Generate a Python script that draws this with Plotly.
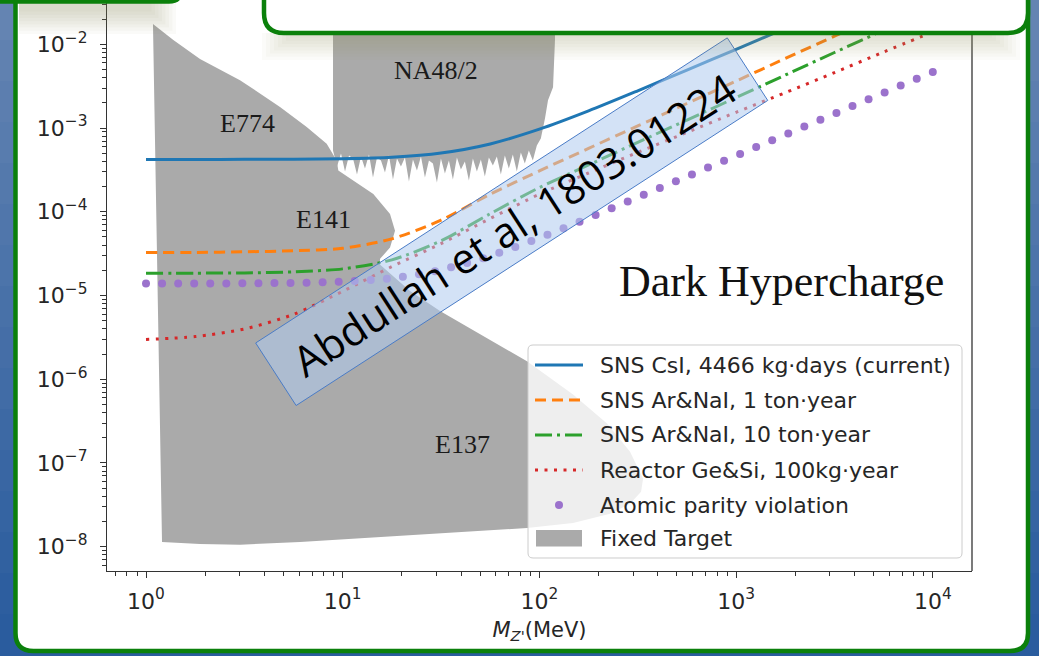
import math
import plotly.graph_objects as go

# ---------------- data ----------------
mass_grid = [1.0, 1.778, 3.162, 5.623, 10.0, 17.78, 31.62, 56.23, 100.0, 177.8,
             316.2, 562.3, 1000.0, 1778.0, 3162.0, 5623.0, 10000.0]

sns_csi_current = [4.217e-4, 4.217e-4, 4.227e-4, 4.246e-4, 4.305e-4, 4.487e-4, 5.035e-4,
                   6.457e-4, 9.683e-4, 1.603e-3, 2.786e-3, 4.920e-3, 8.710e-3, 1.549e-2,
                   2.754e-2, 4.898e-2, 8.710e-2]
sns_arnai_1ton = [3.258e-5, 3.273e-5, 3.327e-5, 3.420e-5, 3.664e-5, 4.753e-5, 7.943e-5,
                  1.622e-4, 3.076e-4, 5.715e-4, 1.059e-3, 1.963e-3, 3.639e-3, 6.761e-3,
                  1.253e-2, 2.323e-2, 4.305e-2]
sns_arnai_10ton = [1.845e-5, 1.849e-5, 1.862e-5, 1.914e-5, 2.080e-5, 2.667e-5, 4.498e-5,
                   9.484e-5, 1.945e-4, 3.622e-4, 6.745e-4, 1.247e-3, 2.312e-3, 4.295e-3,
                   7.980e-3, 1.476e-2, 2.742e-2]
reactor_gesi = [2.985e-6, 3.236e-6, 3.981e-6, 5.957e-6, 1.122e-5, 2.213e-5, 4.169e-5,
                8.318e-5, 1.622e-4, 2.904e-4, 5.117e-4, 8.872e-4, 1.542e-3, 2.642e-3,
                4.592e-3, 8.091e-3, 1.403e-2]

apv_mass = [1.0, 1.207, 1.457, 1.758, 2.121, 2.560, 3.089, 3.728, 4.498, 5.429, 6.551, 7.906,
            9.541, 11.51, 13.89, 16.77, 20.23, 24.42, 29.47, 35.56, 42.92, 51.79, 62.51, 75.43,
            91.03, 109.9, 132.6, 160.0, 193.1, 233.0, 281.2, 339.3, 409.5, 494.2, 596.4, 719.7,
            868.5, 1048.0, 1265.0, 1526.0, 1842.0, 2223.0, 2683.0, 3237.0, 3907.0, 4715.0,
            5690.0, 6866.0, 8286.0, 10000.0]
apv_g = [1.39e-5, 1.39e-5, 1.39e-5, 1.39e-5, 1.394e-5, 1.395e-5, 1.40e-5, 1.40e-5, 1.406e-5,
         1.413e-5, 1.42e-5, 1.435e-5, 1.456e-5, 1.486e-5, 1.53e-5, 1.59e-5, 1.68e-5, 1.796e-5,
         1.955e-5, 2.17e-5, 2.44e-5, 2.79e-5, 3.24e-5, 3.79e-5, 4.48e-5, 5.33e-5, 6.35e-5,
         7.61e-5, 9.14e-5, 1.098e-4, 1.322e-4, 1.593e-4, 1.920e-4, 2.316e-4, 2.79e-4, 3.37e-4,
         4.06e-4, 4.90e-4, 5.92e-4, 7.14e-4, 8.62e-4, 1.04e-3, 1.255e-3, 1.514e-3, 1.827e-3,
         2.206e-3, 2.66e-3, 3.21e-3, 3.88e-3, 4.68e-3]

# Fixed target: E774 + E141 + E137 outline
ft_main_mass = [1.085, 1.377, 1.882, 3.005, 4.80, 6.56, 8.29, 9.32, 9.50, 11.32, 14.31, 17.40,
                18.45, 17.40, 15.49, 15.40, 21.99, 31.24, 49.89, 86.5, 148.3, 220.7, 289.0,
                336.5, 328.8, 289.0, 228.6, 148.3, 86.5, 49.89, 31.24, 15.49, 6.07, 3.005,
                1.882, 1.206]
ft_main_g = [1.75e-2, 1.127e-2, 6.67e-3, 3.73e-3, 1.786e-3, 1.028e-3, 6.50e-4, 4.10e-4, 3.11e-4,
             2.36e-4, 1.633e-4, 9.41e-5, 5.93e-5, 3.74e-5, 2.74e-5, 2.366e-5, 1.133e-5, 6.52e-6,
             3.45e-6, 1.638e-6, 6.59e-7, 2.96e-7, 1.365e-7, 6.48e-8, 4.53e-8, 3.25e-8, 2.47e-8,
             1.924e-8, 1.675e-8, 1.542e-8, 1.459e-8, 1.306e-8, 1.138e-8, 1.057e-8, 1.076e-8,
             1.138e-8]
# Fixed target: NA48/2 outline (ragged lower edge)
na48_mass = [8.928, 8.928, 9.355, 9.803, 10.273, 10.765, 11.281, 11.821, 12.387, 12.980, 13.602,
             14.253, 14.936, 15.651, 16.401, 17.186, 18.010, 18.872, 19.776, 20.723, 21.715,
             22.756, 23.845, 24.988, 26.184, 27.438, 28.752, 30.129, 31.572, 33.084, 34.669,
             36.329, 38.069, 39.892, 41.803, 43.805, 45.903, 48.101, 50.405, 52.819, 55.348,
             57.999, 60.777, 63.688, 66.738, 69.934, 73.284, 76.793, 80.471, 84.325, 88.364,
             92.596, 97.030, 101.68, 106.8, 110.6, 117.3, 120.0, 120.0]
na48_g = [0.1, 5.40e-4, 3.47e-4, 4.97e-4, 3.03e-4, 4.71e-4, 4.33e-4, 2.78e-4, 4.58e-4, 3.29e-4,
          4.84e-4, 2.56e-4, 4.45e-4, 4.10e-4, 2.94e-4, 4.71e-4, 2.43e-4, 4.33e-4, 3.47e-4,
          4.45e-4, 2.30e-4, 4.21e-4, 3.11e-4, 4.58e-4, 2.56e-4, 4.10e-4, 3.77e-4, 2.23e-4,
          4.33e-4, 2.86e-4, 4.10e-4, 2.43e-4, 4.45e-4, 3.20e-4, 3.99e-4, 2.36e-4, 4.33e-4,
          3.03e-4, 4.21e-4, 2.64e-4, 4.45e-4, 3.57e-4, 4.58e-4, 2.78e-4, 4.71e-4, 3.29e-4,
          4.84e-4, 3.03e-4, 5.11e-4, 3.77e-4, 5.40e-4, 4.10e-4, 6.20e-4, 7.52e-4, 1.305e-3,
          2.148e-3, 3.076e-3, 1.127e-2, 0.1]

legend_labels = ["SNS CsI, 4466 kg·days (current)", "SNS Ar&NaI, 1 ton·year",
                 "SNS Ar&NaI, 10 ton·year", "Reactor Ge&Si, 100kg·year",
                 "Atomic parity violation", "Fixed Target"]
region_labels = ["E774", "E141", "NA48/2", "E137"]

x_tick_vals = [1, 10, 100, 1000, 10000]
x_tick_text = ["10<sup>0</sup>", "10<sup>1</sup>", "10<sup>2</sup>", "10<sup>3</sup>", "10<sup>4</sup>"]
y_tick_vals = [1e-8, 1e-7, 1e-6, 1e-5, 1e-4, 1e-3, 1e-2]
y_tick_text = ["10<sup>−8</sup>", "10<sup>−7</sup>", "10<sup>−6</sup>", "10<sup>−5</sup>",
               "10<sup>−4</sup>", "10<sup>−3</sup>", "10<sup>−2</sup>"]

# ---------------- layout geometry ----------------
FW, FH = 1039, 656
ML, MR, MT, MB = 107, 67, 0, 85
PW, PH = FW - ML - MR, FH - MT - MB


def PX(x):
    return (x - ML) / PW


def PY(y):
    return (MT + PH - y) / PH


def P(x, y):
    return f"{PX(x):.5f},{PY(y):.5f}"


def rrect_path(x0, y0, x1, y1, r):
    return (f"M{P(x0 + r, y0)} L{P(x1 - r, y0)} Q{P(x1, y0)} {P(x1, y0 + r)} "
            f"L{P(x1, y1 - r)} Q{P(x1, y1)} {P(x1 - r, y1)} L{P(x0 + r, y1)} "
            f"Q{P(x0, y1)} {P(x0, y1 - r)} L{P(x0, y0 + r)} Q{P(x0, y0)} {P(x0 + r, y0)} Z")


GREEN = "#0b800b"
C_BLUE, C_ORANGE, C_GREEN, C_RED, C_PURPLE = "#1f77b4", "#ff7f0e", "#2ca02c", "#d62728", "#9b72cc"
FT_GRAY = "#aaaaaa"
DASH_O = "11px,6px"
DASH_G = "17px,5px,3px,5px"
DASH_R = "3px,6.5px"

fig = go.Figure()

# fixed target fills
fig.add_trace(go.Scatter(x=ft_main_mass, y=ft_main_g, mode="lines", fill="toself",
                         fillcolor=FT_GRAY, line=dict(width=0, color=FT_GRAY),
                         name="Fixed Target", showlegend=False, hoverinfo="skip"))
fig.add_trace(go.Scatter(x=na48_mass, y=na48_g, mode="lines", fill="toself",
                         fillcolor=FT_GRAY, line=dict(width=0, color=FT_GRAY),
                         showlegend=False, hoverinfo="skip"))

# sensitivity curves
fig.add_trace(go.Scatter(x=mass_grid, y=sns_csi_current, mode="lines", name=legend_labels[0],
                         line=dict(color=C_BLUE, width=3, shape="spline", smoothing=0.8),
                         showlegend=False))
fig.add_trace(go.Scatter(x=mass_grid, y=sns_arnai_1ton, mode="lines", name=legend_labels[1],
                         line=dict(color=C_ORANGE, width=3, dash=DASH_O, shape="spline", smoothing=0.8),
                         showlegend=False))
fig.add_trace(go.Scatter(x=mass_grid, y=sns_arnai_10ton, mode="lines", name=legend_labels[2],
                         line=dict(color=C_GREEN, width=3, dash=DASH_G, shape="spline", smoothing=0.8),
                         showlegend=False))
fig.add_trace(go.Scatter(x=mass_grid, y=reactor_gesi, mode="lines", name=legend_labels[3],
                         line=dict(color=C_RED, width=3, dash=DASH_R, shape="spline", smoothing=0.8),
                         showlegend=False))
fig.add_trace(go.Scatter(x=apv_mass, y=apv_g, mode="markers", name=legend_labels[4],
                         marker=dict(color=C_PURPLE, size=8, line=dict(width=0)),
                         showlegend=False))

shapes = []

# slide background gradient (blue) and white panel
n_bands = 16
top_c, bot_c = (100, 132, 178), (42, 92, 158)
for i in range(n_bands):
    t = i / (n_bands - 1)
    c = tuple(int(top_c[k] + (bot_c[k] - top_c[k]) * t) for k in range(3))
    shapes.append(dict(type="rect", xref="paper", yref="paper", layer="below",
                       x0=PX(0), x1=PX(FW), y0=PY(i * FH / n_bands - 1), y1=PY((i + 1) * FH / n_bands + 1),
                       fillcolor=f"rgb{c}", line=dict(width=0)))
shapes.append(dict(type="path", xref="paper", yref="paper", layer="below",
                   path=rrect_path(15.5, -40, 1028, 651, 18),
                   fillcolor="white", line=dict(color=GREEN, width=4.5)))

# citation box (rotated rectangle)
cx, cy, ang, blen, bwid = 511.7, 221.7, math.radians(32.9), 561.7, 74.5
ux, uy = math.cos(ang), -math.sin(ang)
vx, vy = math.sin(ang), math.cos(ang)
corners = []
for su, sv in [(-1, -1), (1, -1), (1, 1), (-1, 1)]:
    corners.append((cx + su * ux * blen / 2 + sv * vx * bwid / 2,
                    cy + su * uy * blen / 2 + sv * vy * bwid / 2))
box_path = "M" + " L".join(P(x, y) for x, y in corners) + " Z"
shapes.append(dict(type="path", xref="paper", yref="paper", layer="above", path=box_path,
                   fillcolor="rgba(175,203,238,0.55)", line=dict(color="#4a7cc7", width=1)))

# right spine
shapes.append(dict(type="line", xref="paper", yref="paper", layer="above",
                   x0=1, x1=1, y0=0, y1=1, line=dict(color="#333333", width=1.3)))

# legend box and samples
shapes.append(dict(type="path", xref="paper", yref="paper", layer="above",
                   path=rrect_path(528, 345, 962, 558, 5),
                   fillcolor="rgba(255,255,255,0.8)", line=dict(color="#cccccc", width=1)))
row_y = [365, 400, 435, 470, 505, 538]
sample_styles = [(C_BLUE, 3, "solid"), (C_ORANGE, 3, DASH_O), (C_GREEN, 3, DASH_G), (C_RED, 3, DASH_R)]
for (col, w, d), yy in zip(sample_styles, row_y[:4]):
    shapes.append(dict(type="line", xref="paper", yref="paper", layer="above",
                       x0=PX(535), x1=PX(583), y0=PY(yy), y1=PY(yy),
                       line=dict(color=col, width=w, dash=d)))
shapes.append(dict(type="circle", xref="paper", yref="paper", layer="above",
                   x0=PX(555), x1=PX(563), y0=PY(row_y[4] - 4), y1=PY(row_y[4] + 4),
                   fillcolor=C_PURPLE, line=dict(width=0)))
shapes.append(dict(type="rect", xref="paper", yref="paper", layer="above",
                   x0=PX(536), x1=PX(582), y0=PY(530), y1=PY(546.5),
                   fillcolor=FT_GRAY, line=dict(width=0)))

# soft shadows under the slide boxes (stacked translucent layers)
for k in range(8):
    shapes.append(dict(type="rect", xref="paper", yref="paper", layer="above",
                       x0=PX(262 + 4 * k), x1=PX(1020 - 4 * k), y0=PY(33), y1=PY(60 - 3.2 * k),
                       fillcolor="rgba(150,150,95,0.04)", line=dict(width=0)))
for k in range(8):
    shapes.append(dict(type="rect", xref="paper", yref="paper", layer="above",
                       x0=PX(19), x1=PX(176 - 3.5 * k), y0=PY(2), y1=PY(34 - 3.2 * k),
                       fillcolor="rgba(150,150,95,0.045)", line=dict(width=0)))

# slide boxes at the top
shapes.append(dict(type="path", xref="paper", yref="paper", layer="above",
                   path=rrect_path(264, -60, 1028, 33, 20),
                   fillcolor="white", line=dict(color=GREEN, width=4.5)))
shapes.append(dict(type="path", xref="paper", yref="paper", layer="above",
                   path=rrect_path(-40, -60, 181, 1.5, 12),
                   fillcolor="white", line=dict(color=GREEN, width=4.5)))

annotations = []
for txt, (lx, ly) in zip(region_labels, [(247, 124), (323, 220), (436, 71), (462, 444)]):
    annotations.append(dict(xref="paper", yref="paper", x=PX(lx), y=PY(ly), text=txt,
                            showarrow=False, xanchor="center", yanchor="middle",
                            font=dict(family="Liberation Serif", size=26, color="#1a1a1a")))
annotations.append(dict(xref="paper", yref="paper", x=PX(781), y=PY(281), text="Dark Hypercharge",
                        showarrow=False, xanchor="center", yanchor="middle",
                        font=dict(family="Liberation Serif", size=44, color="#111111")))
annotations.append(dict(xref="paper", yref="paper", x=PX(513), y=PY(224),
                        text="Abdullah et al, 1803.01224", textangle=-32.9,
                        showarrow=False, xanchor="center", yanchor="middle",
                        font=dict(family="Open Sans", size=42, color="#000000")))
for txt, yy in zip(legend_labels, row_y):
    annotations.append(dict(xref="paper", yref="paper", x=PX(598), y=PY(yy), text=txt,
                            showarrow=False, xanchor="left", yanchor="middle",
                            font=dict(family="DejaVu Sans", size=22, color="#262626")))

minor_x = [m * 10 ** k for k in range(-1, 5) for m in range(2, 10)]
minor_y = [m * 10.0 ** k for k in range(-9, -1) for m in range(2, 10)]
tickfont = dict(family="DejaVu Sans", size=22, color="#262626")

fig.update_layout(
    width=FW, height=FH,
    margin=dict(l=ML, r=MR, t=MT, b=MB, pad=0),
    paper_bgcolor="#4a74ab", plot_bgcolor="rgba(0,0,0,0)",
    showlegend=False,
    shapes=shapes, annotations=annotations,
    xaxis=dict(type="log", range=[-0.1983, 4.1993], tickvals=x_tick_vals, ticktext=x_tick_text,
               ticks="outside", ticklen=6, tickwidth=1.3, tickcolor="#333333",
               showline=True, linecolor="#333333", linewidth=1.3, showgrid=False, zeroline=False,
               tickfont=tickfont, ticklabelstandoff=4,
               minor=dict(tickvals=minor_x, ticks="outside", ticklen=3.5, tickwidth=1,
                          tickcolor="#333333", showgrid=False),
               title=dict(text="<i>M</i><sub><i>Z'</i></sub>(MeV)",
                          font=dict(family="DejaVu Sans", size=21, color="#262626"), standoff=9)),
    yaxis=dict(type="log", range=[-8.290, -1.471], tickvals=y_tick_vals, ticktext=y_tick_text,
               ticks="outside", ticklen=6, tickwidth=1.3, tickcolor="#333333",
               showline=True, linecolor="#333333", linewidth=1.3, showgrid=False, zeroline=False,
               tickfont=tickfont, ticklabelstandoff=8,
               minor=dict(tickvals=minor_y, ticks="outside", ticklen=3.5, tickwidth=1,
                          tickcolor="#333333", showgrid=False)),
)

fig.write_html("out.html")
